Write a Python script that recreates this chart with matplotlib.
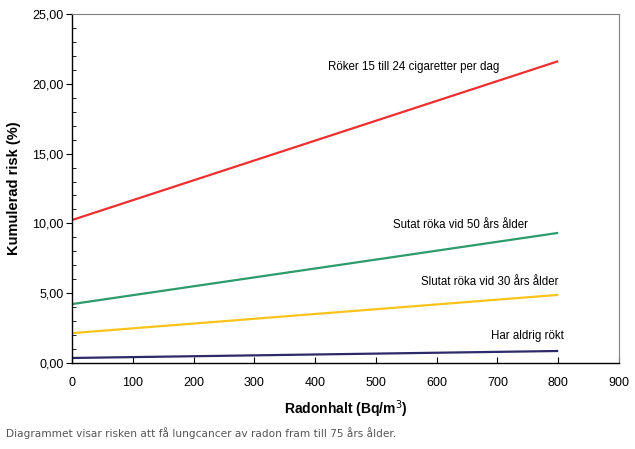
import matplotlib
matplotlib.use("Agg")
import matplotlib.pyplot as plt
from matplotlib.ticker import MultipleLocator, FuncFormatter

# radon level (Bq/m3) and cumulative risk (%)
radon = [0, 800]
roker = [10.24, 21.62]
sutat50 = [4.22, 9.32]
slutat30 = [2.14, 4.88]
aldrig = [0.36, 0.86]

series = [
    (roker, "#ee2f2f", "Röker 15 till 24 cigaretter per dag", (562, 21.2)),
    (sutat50, "#2e9b6c", "Sutat röka vid 50 års ålder", (640, 9.85)),
    (slutat30, "#f8c41c", "Slutat röka vid 30 års ålder", (688, 5.8)),
    (aldrig, "#2c2a68", "Har aldrig rökt", (750, 1.95)),
]

plt.rcParams['font.family'] = ['Liberation Sans', 'DejaVu Sans']

fig = plt.figure(figsize=(6.35, 4.49), dpi=100)
ax = fig.add_axes([72 / 635, 1 - 363 / 449, 547 / 635, 349 / 449])

for vals, col, label, pos in series:
    ax.plot(radon, vals, color=col, lw=1.6, solid_capstyle='butt')
    ax.text(pos[0], pos[1], label, ha='center', va='center', fontsize=8.3)

ax.set_xlim(0, 900)
ax.set_ylim(0, 25)
ax.xaxis.set_major_locator(MultipleLocator(100))
ax.yaxis.set_major_locator(MultipleLocator(5))
ax.yaxis.set_minor_locator(MultipleLocator(1))
ax.yaxis.set_major_formatter(FuncFormatter(lambda v, p: f"{v:.2f}".replace(".", ",")))

ax.tick_params(axis='x', direction='in', length=4, labelsize=9, pad=10, color='black')
ax.tick_params(axis='y', which='major', direction='out', length=4, labelsize=9, pad=2)
ax.tick_params(axis='y', which='minor', direction='in', length=3)

for s in ['top', 'right']:
    ax.spines[s].set_color('#808080')
    ax.spines[s].set_linewidth(0.8)
for s in ['left', 'bottom']:
    ax.spines[s].set_color('black')
    ax.spines[s].set_linewidth(1.0)

ax.set_xlabel("Radonhalt (Bq/m$^3$)", fontsize=10, fontweight='bold', labelpad=7)
ax.set_ylabel("Kumulerad risk (%)", fontsize=10.5, fontweight='bold', labelpad=8)

fig.text(6 / 635, 1 - 433 / 449, "Diagrammet visar risken att få lungcancer av radon fram till 75 års ålder.",
         fontsize=7.6, color='#555555', va='center', ha='left', family=['DejaVu Sans'])

fig.savefig("out.png", dpi=100)
